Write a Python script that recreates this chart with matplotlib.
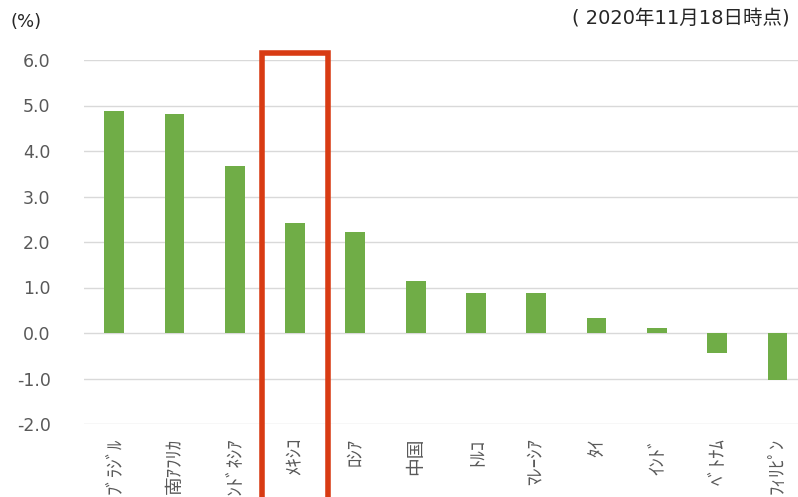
import matplotlib
matplotlib.use("Agg")
import matplotlib.pyplot as plt
from matplotlib.patches import Rectangle

plt.rcParams['font.family'] = ['DejaVu Sans', 'Noto Sans CJK JP']

categories = ['ﾌﾞﾗｼﾞﾙ', '南ｱﾌﾘｶ', 'ｲﾝﾄﾞﾈｼｱ', 'ﾒｷｼｺ', 'ﾛｼｱ', '中国', 'ﾄﾙｺ',
              'ﾏﾚｰｼｱ', 'ﾀｲ', 'ｲﾝﾄﾞ', 'ﾍﾞﾄﾅﾑ', 'ﾌｨﾘﾋﾟﾝ']
values = [4.88, 4.81, 3.67, 2.42, 2.22, 1.14, 0.88, 0.88, 0.33, 0.11, -0.44, -1.03]
yticks = [-2.0, -1.0, 0.0, 1.0, 2.0, 3.0, 4.0, 5.0, 6.0]
highlight = 'ﾒｷｼｺ'

W, H = 798, 497
fig = plt.figure(figsize=(W/100, H/100), dpi=100)
left, right = 84, 798
top_y, bot_y = 60, 424
ax = fig.add_axes([left/W, 1 - bot_y/H, (right-left)/W, (bot_y-top_y)/H])

x = list(range(len(categories)))
ax.bar(x, values, width=0.33, color='#70AD47', zorder=3)
ax.set_ylim(-2.0, 6.0)
ax.set_xlim(-0.5, -0.5 + (right-left)/60.3)
ax.set_yticks(yticks)
ax.set_yticklabels([f'{v:.1f}' for v in yticks], fontsize=12.5, color='#595959')
ax.set_xticks(x)
ax.set_xticklabels(categories, rotation=90, fontsize=13.5, color='#595959',
                   family=['Noto Sans CJK JP', 'DejaVu Sans'])
ax.tick_params(axis='both', length=0)
ax.tick_params(axis='y', pad=24)
ax.tick_params(axis='x', pad=10)
ax.grid(axis='y', color='#D9D9D9', linewidth=1, zorder=0)
for s in ax.spines.values():
    s.set_visible(False)

i = categories.index(highlight)
rect = Rectangle((i - 0.55, -5.0), 1.1, 6.15 + 5.0, fill=False,
                 edgecolor='#D83B13', linewidth=4, clip_on=False, zorder=5)
ax.add_patch(rect)

fig.text(10/W, 1 - 22/H, '(%)', fontsize=13, color='#262626', va='center', ha='left')
fig.text(790/W, 1 - 18/H, '( 2020年11月18日時点)', fontsize=14, color='#262626',
         va='center', ha='right', family=['DejaVu Sans', 'Noto Sans CJK JP'])

fig.savefig('out.png', dpi=100)
